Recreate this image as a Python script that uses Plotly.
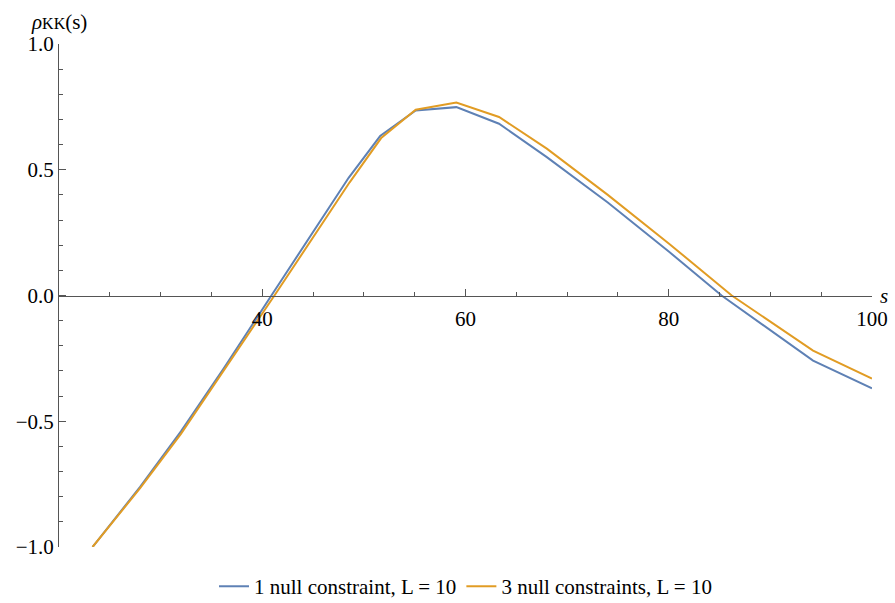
import plotly.graph_objects as go

# s values and correlation for each setup
s_one = [23.3, 28.0, 32.0, 36.2, 40.9, 48.5, 51.6, 55.1, 59.1, 63.3, 68.0, 74.0, 80.0, 85.2, 94.2, 100.0]
rho_one = [-1.0, -0.76, -0.54, -0.29, 0.0, 0.468, 0.634, 0.736, 0.749, 0.683, 0.550, 0.37, 0.175, 0.0, -0.259, -0.369]

s_three = [23.3, 28.0, 32.0, 36.2, 41.2, 48.6, 51.7, 55.1, 59.1, 63.3, 68.0, 74.0, 80.0, 86.2, 94.2, 100.0]
rho_three = [-1.0, -0.765, -0.55, -0.30, 0.0, 0.45, 0.626, 0.739, 0.767, 0.710, 0.584, 0.40, 0.207, 0.0, -0.219, -0.330]

x_ticks = [40, 60, 80, 100]
y_ticks = [-1.0, -0.5, 0.0, 0.5, 1.0]
y_tick_text = ["\u22121.0", "\u22120.5", "0.0", "0.5", "1.0"]

FONT = "Liberation Serif"
AXIS = "#555555"

fig = go.Figure()
fig.add_trace(go.Scatter(x=s_one, y=rho_one, mode="lines",
                         line=dict(color="#5E81B5", width=2),
                         name="1 null constraint, L = 10"))
fig.add_trace(go.Scatter(x=s_three, y=rho_three, mode="lines",
                         line=dict(color="#E19C24", width=2),
                         name="3 null constraints, L = 10"))

fig.update_layout(
    width=895, height=603,
    margin=dict(l=59, r=23, t=44, b=56, autoexpand=False),
    paper_bgcolor="white", plot_bgcolor="white",
    font=dict(family=FONT, size=21, color="black"),
    showlegend=True,
    legend=dict(orientation="h", x=0.5, xanchor="center", y=-0.038, yanchor="top",
                font=dict(family=FONT, size=21), itemwidth=30, tracegroupgap=0),
    xaxis=dict(range=[20, 100], showgrid=False, zeroline=False,
               showline=True, linecolor=AXIS, linewidth=1,
               anchor="free", position=0.5,
               tickvals=x_ticks, ticks="inside", ticklen=7, tickcolor=AXIS,
               ticklabelstandoff=4,
               minor=dict(dtick=5, tick0=0, ticks="inside", ticklen=4, tickcolor=AXIS),
               tickfont=dict(family=FONT, size=21)),
    yaxis=dict(range=[-1, 1], showgrid=False, zeroline=False,
               showline=True, linecolor=AXIS, linewidth=1,
               tickvals=y_ticks, ticktext=y_tick_text,
               ticks="inside", ticklen=7, tickcolor=AXIS,
               minor=dict(dtick=0.1, tick0=0, ticks="inside", ticklen=4, tickcolor=AXIS),
               tickfont=dict(family=FONT, size=21)),
    annotations=[
        dict(text="<i>\u03c1</i><span style='font-size:16px'>KK</span>(s)",
             xref="paper", yref="paper", x=-0.037, y=1.0, xanchor="left", yanchor="bottom",
             yshift=8, showarrow=False, font=dict(family=FONT, size=21)),
        dict(text="<i>s</i>", xref="paper", yref="y", x=1.0, y=0, xanchor="left",
             yanchor="middle", xshift=6, yshift=0, showarrow=False,
             font=dict(family=FONT, size=21)),
    ],
)

fig.write_html("out.html")
